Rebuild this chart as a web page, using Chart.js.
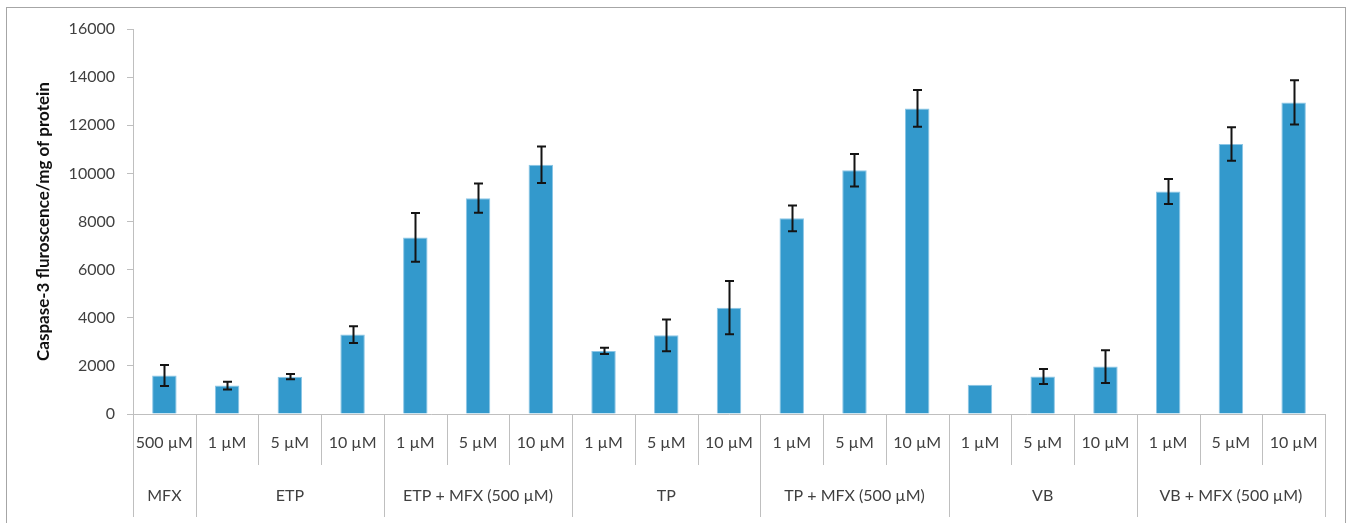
<!DOCTYPE html>
<html>
<head>
<meta charset="utf-8">
<title>Caspase-3 fluorescence</title>
<script src="https://cdn.jsdelivr.net/npm/chart.js@4.4.1/dist/chart.umd.min.js"></script>
<style>
  html, body { margin: 0; padding: 0; background: #ffffff; }
  #wrap { position: relative; width: 1350px; height: 523px; }
  canvas { display: block; }
</style>
</head>
<body>
<div id="wrap"><canvas id="chart" width="1350" height="523"></canvas></div>
<script>
// Concentration of each treatment (lower axis row)
const doses = [
  '500 µM',
  '1 µM', '5 µM', '10 µM',
  '1 µM', '5 µM', '10 µM',
  '1 µM', '5 µM', '10 µM',
  '1 µM', '5 µM', '10 µM',
  '1 µM', '5 µM', '10 µM',
  '1 µM', '5 µM', '10 µM'
];

// Treatment groups (upper axis row) and how many doses each spans
const groups = ['MFX', 'ETP', 'ETP + MFX (500 µM)', 'TP', 'TP + MFX (500 µM)', 'VB', 'VB + MFX (500 µM)'];
const groupSizes = [1, 3, 3, 3, 3, 3, 3];

// Mean caspase-3 fluorescence per mg protein
const means = [
  1600,
  1180, 1550, 3300,
  7340, 8970, 10360,
  2620, 3270, 4420,
  8130, 10130, 12700,
  1220, 1560, 1970,
  9250, 11220, 12950
];

// Error (± SD)
const errors = [
  440,
  165, 110, 350,
  1010, 610, 760,
  130, 660, 1110,
  540, 680, 765,
  0, 310, 680,
  520, 700, 915
];

const yTickValues = [0, 2000, 4000, 6000, 8000, 10000, 12000, 14000, 16000];

const FONT = 'Lato, "Open Sans", sans-serif';
const TEXT = '#404040';
const LINE = '#bfbfbf';

// Whisker overlay for each bar
const errorBars = {
  id: 'errorBars',
  afterDatasetsDraw(chart) {
    const { ctx, scales: { x, y } } = chart;
    ctx.save();
    ctx.strokeStyle = '#141414';
    ctx.lineWidth = 2;
    means.forEach((m, i) => {
      const e = errors[i];
      if (!e) return;
      const cx = Math.round(x.getPixelForValue(i)) + 0.5;
      const top = y.getPixelForValue(m + e);
      const bot = y.getPixelForValue(m - e);
      ctx.beginPath();
      ctx.moveTo(cx, top); ctx.lineTo(cx, bot);
      ctx.moveTo(cx - 4.5, top); ctx.lineTo(cx + 4.5, top);
      ctx.moveTo(cx - 4.5, bot); ctx.lineTo(cx + 4.5, bot);
      ctx.stroke();
    });
    ctx.restore();
  }
};

// Two-row category axis with separators, plus the outer frame
const groupedAxis = {
  id: 'groupedAxis',
  afterDraw(chart) {
    const { ctx, chartArea, scales: { x } } = chart;
    const axisY = chartArea.bottom;
    const n = doses.length;
    const edge = (k) => {
      if (k <= 0) return chartArea.left;
      if (k >= n) return chartArea.right;
      return (x.getPixelForValue(k - 1) + x.getPixelForValue(k)) / 2;
    };
    const groupStarts = new Set();
    let acc = 0;
    groupSizes.forEach(s => { groupStarts.add(acc); acc += s; });
    groupStarts.add(n);

    ctx.save();
    ctx.strokeStyle = LINE;
    ctx.lineWidth = 1;
    for (let k = 0; k <= n; k++) {
      const px = Math.round(edge(k)) + 0.5;
      ctx.beginPath();
      ctx.moveTo(px, axisY);
      ctx.lineTo(px, groupStarts.has(k) ? axisY + 103 : axisY + 51);
      ctx.stroke();
    }

    ctx.fillStyle = TEXT;
    ctx.font = '16px ' + FONT;
    ctx.textAlign = 'center';
    ctx.textBaseline = 'middle';
    doses.forEach((d, i) => {
      ctx.fillText(d, x.getPixelForValue(i), axisY + 29);
    });
    acc = 0;
    groups.forEach((g, gi) => {
      const cx = (edge(acc) + edge(acc + groupSizes[gi])) / 2;
      ctx.fillText(g, cx, axisY + 82);
      acc += groupSizes[gi];
    });

    // outer frame
    ctx.strokeStyle = '#a6a6a6';
    ctx.lineWidth = 1;
    ctx.strokeRect(6.5, 7.5, 1339, 600);
    ctx.restore();
  }
};

new Chart(document.getElementById('chart'), {
  type: 'bar',
  data: {
    labels: doses,
    datasets: [{
      data: means,
      backgroundColor: '#3399cc',
      borderColor: '#8cc6e6',
      borderWidth: 1,
      borderSkipped: 'bottom',
      categoryPercentage: 1.0,
      barPercentage: 0.39
    }]
  },
  options: {
    responsive: false,
    animation: false,
    events: [],
    layout: { padding: { left: 0, top: 29, right: 25, bottom: 0 } },
    plugins: {
      legend: { display: false },
      tooltip: { enabled: false }
    },
    scales: {
      x: {
        ticks: { display: false },
        grid: { display: false },
        border: { display: true, color: LINE, width: 1 },
        afterFit(scale) { scale.height = 109; }
      },
      y: {
        min: 0,
        max: 16000,
        afterBuildTicks(scale) { scale.ticks = yTickValues.map(v => ({ value: v })); },
        afterFit(scale) { scale.width = 133; },
        ticks: {
          padding: 12,
          color: TEXT,
          font: { family: FONT, size: 16 },
          callback: (v) => String(v)
        },
        grid: {
          drawOnChartArea: false,
          drawTicks: true,
          tickLength: 6,
          color: LINE
        },
        border: { display: true, color: LINE, width: 1 },
        title: {
          display: true,
          text: 'Caspase-3 fluroscence/mg of protein',
          color: '#111111',
          font: { family: FONT, size: 17, weight: 'bold' },
          padding: { top: 33, bottom: 0 }
        }
      }
    }
  },
  plugins: [errorBars, groupedAxis]
});
</script>
</body>
</html>
